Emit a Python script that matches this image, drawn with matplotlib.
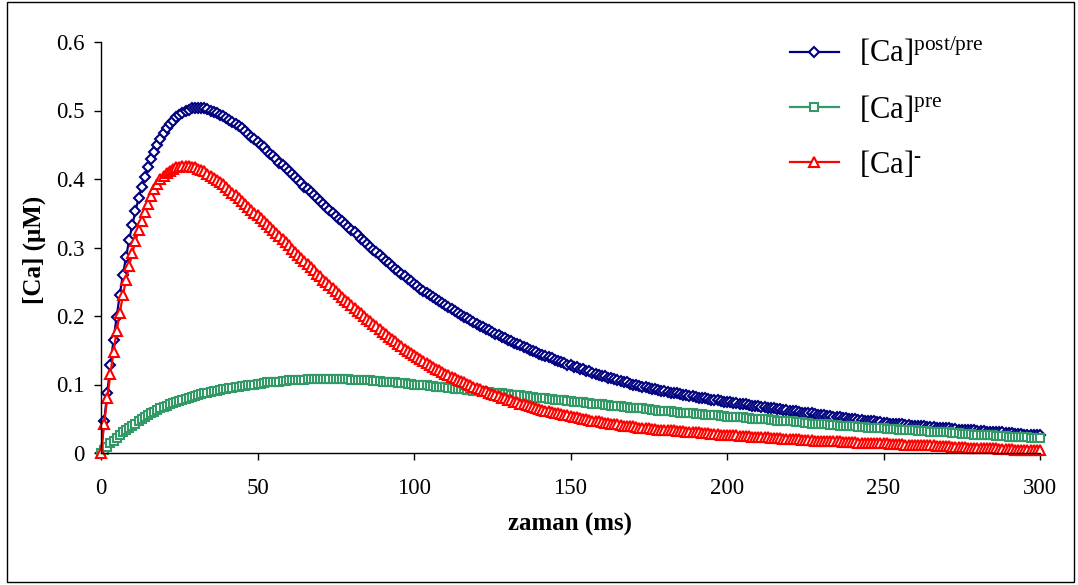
import matplotlib
matplotlib.use("Agg")
import matplotlib.pyplot as plt
import numpy as np
from matplotlib.patches import Rectangle

plt.rcParams["font.family"] = ["Liberation Serif", "DejaVu Serif"]
plt.rcParams["mathtext.fontset"] = "custom"
plt.rcParams["mathtext.rm"] = "Liberation Serif"
plt.rcParams["mathtext.it"] = "Liberation Serif:italic"

# time axis, one sample per ms
time_ms = np.arange(0, 301)

ca_post_pre = [
    0.000, 0.046, 0.088, 0.128, 0.165, 0.199, 0.231, 0.260, 0.286, 0.311,
    0.333, 0.353, 0.372, 0.388, 0.403, 0.417, 0.429, 0.440, 0.450, 0.459,
    0.467, 0.474, 0.480, 0.485, 0.490, 0.494, 0.497, 0.499, 0.501, 0.503,
    0.504, 0.504, 0.504, 0.503, 0.502, 0.500, 0.498, 0.496, 0.494, 0.492,
    0.489, 0.486, 0.483, 0.480, 0.477, 0.474, 0.470, 0.466, 0.462, 0.458,
    0.454, 0.450, 0.446, 0.441, 0.437, 0.433, 0.429, 0.424, 0.420, 0.416,
    0.411, 0.407, 0.403, 0.398, 0.394, 0.389, 0.385, 0.381, 0.376, 0.372,
    0.368, 0.363, 0.359, 0.355, 0.351, 0.346, 0.342, 0.338, 0.334, 0.330,
    0.326, 0.322, 0.318, 0.313, 0.309, 0.305, 0.301, 0.297, 0.293, 0.289,
    0.285, 0.281, 0.277, 0.273, 0.269, 0.265, 0.261, 0.258, 0.254, 0.251,
    0.247, 0.244, 0.240, 0.237, 0.234, 0.231, 0.228, 0.225, 0.222, 0.219,
    0.216, 0.213, 0.210, 0.207, 0.205, 0.202, 0.199, 0.197, 0.194, 0.191,
    0.189, 0.186, 0.184, 0.181, 0.179, 0.177, 0.174, 0.172, 0.170, 0.168,
    0.165, 0.163, 0.161, 0.159, 0.157, 0.155, 0.153, 0.151, 0.149, 0.147,
    0.145, 0.143, 0.141, 0.140, 0.138, 0.136, 0.134, 0.133, 0.131, 0.129,
    0.128, 0.126, 0.125, 0.123, 0.122, 0.120, 0.119, 0.117, 0.116, 0.114,
    0.113, 0.112, 0.110, 0.109, 0.108, 0.106, 0.105, 0.104, 0.103, 0.101,
    0.100, 0.099, 0.098, 0.097, 0.096, 0.095, 0.094, 0.093, 0.092, 0.091,
    0.090, 0.089, 0.088, 0.088, 0.087, 0.086, 0.085, 0.084, 0.083, 0.083,
    0.082, 0.081, 0.080, 0.080, 0.079, 0.078, 0.077, 0.077, 0.076, 0.075,
    0.075, 0.074, 0.073, 0.073, 0.072, 0.071, 0.071, 0.070, 0.069, 0.069,
    0.068, 0.067, 0.067, 0.066, 0.066, 0.065, 0.064, 0.064, 0.063, 0.063,
    0.062, 0.061, 0.061, 0.060, 0.059, 0.059, 0.058, 0.058, 0.057, 0.056,
    0.056, 0.055, 0.054, 0.054, 0.053, 0.053, 0.052, 0.051, 0.051, 0.050,
    0.049, 0.049, 0.048, 0.048, 0.047, 0.047, 0.046, 0.046, 0.045, 0.045,
    0.044, 0.044, 0.043, 0.043, 0.042, 0.042, 0.042, 0.041, 0.041, 0.040,
    0.040, 0.040, 0.039, 0.039, 0.038, 0.038, 0.038, 0.037, 0.037, 0.036,
    0.036, 0.036, 0.035, 0.035, 0.034, 0.034, 0.034, 0.033, 0.033, 0.033,
    0.032, 0.032, 0.032, 0.031, 0.031, 0.031, 0.030, 0.030, 0.030, 0.029,
    0.029, 0.029, 0.028, 0.028, 0.028, 0.027, 0.027, 0.027, 0.026, 0.026,
    0.026,
]

ca_pre = [
    0.000, 0.005, 0.009, 0.014, 0.018, 0.022, 0.026, 0.030, 0.033, 0.037,
    0.040, 0.043, 0.047, 0.050, 0.053, 0.055, 0.058, 0.060, 0.063, 0.065,
    0.067, 0.069, 0.071, 0.073, 0.075, 0.076, 0.078, 0.079, 0.081, 0.082,
    0.083, 0.084, 0.086, 0.087, 0.088, 0.089, 0.090, 0.091, 0.092, 0.093,
    0.094, 0.095, 0.095, 0.096, 0.097, 0.098, 0.098, 0.099, 0.100, 0.100,
    0.101, 0.101, 0.102, 0.103, 0.103, 0.104, 0.104, 0.104, 0.105, 0.105,
    0.106, 0.106, 0.106, 0.107, 0.107, 0.107, 0.108, 0.108, 0.108, 0.108,
    0.108, 0.108, 0.108, 0.108, 0.108, 0.108, 0.108, 0.108, 0.108, 0.108,
    0.107, 0.107, 0.107, 0.107, 0.106, 0.106, 0.106, 0.105, 0.105, 0.105,
    0.104, 0.104, 0.104, 0.103, 0.103, 0.102, 0.102, 0.102, 0.101, 0.101,
    0.100, 0.100, 0.099, 0.099, 0.099, 0.098, 0.098, 0.097, 0.097, 0.096,
    0.096, 0.095, 0.095, 0.094, 0.094, 0.093, 0.093, 0.092, 0.092, 0.091,
    0.091, 0.090, 0.090, 0.089, 0.089, 0.088, 0.088, 0.087, 0.087, 0.086,
    0.086, 0.085, 0.085, 0.084, 0.084, 0.083, 0.083, 0.082, 0.082, 0.081,
    0.081, 0.080, 0.080, 0.079, 0.079, 0.078, 0.078, 0.077, 0.077, 0.076,
    0.076, 0.075, 0.075, 0.074, 0.074, 0.073, 0.073, 0.072, 0.072, 0.071,
    0.071, 0.070, 0.070, 0.069, 0.069, 0.068, 0.068, 0.067, 0.067, 0.066,
    0.066, 0.066, 0.065, 0.065, 0.064, 0.064, 0.063, 0.063, 0.062, 0.062,
    0.062, 0.061, 0.061, 0.060, 0.060, 0.059, 0.059, 0.059, 0.058, 0.058,
    0.057, 0.057, 0.057, 0.056, 0.056, 0.055, 0.055, 0.055, 0.054, 0.054,
    0.053, 0.053, 0.053, 0.052, 0.052, 0.052, 0.051, 0.051, 0.050, 0.050,
    0.050, 0.049, 0.049, 0.049, 0.048, 0.048, 0.047, 0.047, 0.047, 0.046,
    0.046, 0.046, 0.045, 0.045, 0.045, 0.044, 0.044, 0.043, 0.043, 0.043,
    0.042, 0.042, 0.042, 0.041, 0.041, 0.041, 0.040, 0.040, 0.040, 0.039,
    0.039, 0.039, 0.038, 0.038, 0.038, 0.037, 0.037, 0.037, 0.036, 0.036,
    0.036, 0.035, 0.035, 0.035, 0.035, 0.034, 0.034, 0.034, 0.033, 0.033,
    0.033, 0.032, 0.032, 0.032, 0.032, 0.031, 0.031, 0.031, 0.030, 0.030,
    0.030, 0.030, 0.029, 0.029, 0.029, 0.028, 0.028, 0.028, 0.028, 0.027,
    0.027, 0.027, 0.026, 0.026, 0.026, 0.026, 0.025, 0.025, 0.025, 0.025,
    0.024, 0.024, 0.024, 0.024, 0.023, 0.023, 0.023, 0.022, 0.022, 0.022,
    0.022,
]

ca_minus = [
    0.000, 0.043, 0.080, 0.115, 0.148, 0.178, 0.205, 0.230, 0.253, 0.273,
    0.292, 0.309, 0.325, 0.339, 0.352, 0.364, 0.375, 0.385, 0.393, 0.400,
    0.405, 0.409, 0.412, 0.415, 0.417, 0.418, 0.419, 0.419, 0.419, 0.418,
    0.417, 0.415, 0.413, 0.411, 0.408, 0.405, 0.402, 0.399, 0.395, 0.392,
    0.388, 0.384, 0.380, 0.376, 0.372, 0.368, 0.364, 0.359, 0.355, 0.351,
    0.347, 0.343, 0.338, 0.334, 0.330, 0.326, 0.321, 0.317, 0.312, 0.308,
    0.303, 0.298, 0.294, 0.289, 0.285, 0.280, 0.276, 0.271, 0.267, 0.262,
    0.258, 0.253, 0.249, 0.245, 0.241, 0.236, 0.232, 0.228, 0.224, 0.220,
    0.216, 0.212, 0.208, 0.204, 0.200, 0.196, 0.192, 0.188, 0.185, 0.181,
    0.177, 0.173, 0.170, 0.166, 0.163, 0.159, 0.156, 0.152, 0.149, 0.146,
    0.143, 0.140, 0.137, 0.134, 0.131, 0.129, 0.126, 0.123, 0.121, 0.118,
    0.116, 0.114, 0.111, 0.109, 0.107, 0.105, 0.103, 0.101, 0.099, 0.097,
    0.095, 0.093, 0.091, 0.090, 0.088, 0.086, 0.084, 0.083, 0.081, 0.080,
    0.078, 0.077, 0.075, 0.074, 0.072, 0.071, 0.070, 0.068, 0.067, 0.066,
    0.064, 0.063, 0.062, 0.061, 0.060, 0.059, 0.058, 0.057, 0.056, 0.055,
    0.054, 0.053, 0.052, 0.051, 0.050, 0.049, 0.048, 0.047, 0.047, 0.046,
    0.045, 0.044, 0.044, 0.043, 0.042, 0.042, 0.041, 0.040, 0.040, 0.039,
    0.039, 0.038, 0.037, 0.037, 0.036, 0.036, 0.035, 0.035, 0.034, 0.034,
    0.034, 0.034, 0.033, 0.033, 0.032, 0.032, 0.032, 0.031, 0.031, 0.030,
    0.030, 0.030, 0.029, 0.029, 0.029, 0.028, 0.028, 0.028, 0.027, 0.027,
    0.027, 0.026, 0.026, 0.026, 0.025, 0.025, 0.025, 0.025, 0.024, 0.024,
    0.024, 0.023, 0.023, 0.023, 0.022, 0.022, 0.022, 0.022, 0.021, 0.021,
    0.021, 0.020, 0.020, 0.020, 0.019, 0.019, 0.019, 0.019, 0.018, 0.018,
    0.018, 0.018, 0.017, 0.017, 0.017, 0.017, 0.017, 0.016, 0.016, 0.016,
    0.016, 0.016, 0.015, 0.015, 0.015, 0.015, 0.015, 0.014, 0.014, 0.014,
    0.014, 0.014, 0.013, 0.013, 0.013, 0.013, 0.013, 0.012, 0.012, 0.012,
    0.012, 0.012, 0.011, 0.011, 0.011, 0.011, 0.011, 0.010, 0.010, 0.010,
    0.010, 0.010, 0.009, 0.009, 0.009, 0.009, 0.009, 0.008, 0.008, 0.008,
    0.008, 0.008, 0.007, 0.007, 0.007, 0.007, 0.007, 0.006, 0.006, 0.006,
    0.006, 0.006, 0.005, 0.005, 0.005, 0.005, 0.005, 0.005, 0.004, 0.004,
    0.004,
]

series_labels = [
    r"$\mathregular{[Ca]^{post/pre}}$",
    r"$\mathregular{[Ca]^{pre}}$",
    "$\\mathregular{[Ca]^{\u2010}}$",
]
x_ticks = [0, 50, 100, 150, 200, 250, 300]
y_ticks = [0, 0.1, 0.2, 0.3, 0.4, 0.5, 0.6]
y_tick_labels = ["0", "0.1", "0.2", "0.3", "0.4", "0.5", "0.6"]

W, H = 1078, 585
fig = plt.figure(figsize=(W / 100, H / 100), dpi=100)
ax = fig.add_axes([101 / W, 1 - 453 / H, 939 / W, 411 / H])

styles = [
    dict(color="#000080", marker="D", ms=4.6),
    dict(color="#339966", marker="s", ms=6.0),
    dict(color="#FF0000", marker="^", ms=6.8),
]
for ys, st, lab in zip([ca_post_pre, ca_pre, ca_minus], styles, series_labels):
    ax.plot(time_ms, ys, color=st["color"], lw=1.6, marker=st["marker"],
            ms=st["ms"], mfc="white", mec=st["color"], mew=1.5,
            label=lab, clip_on=False)

ax.set_xlim(0, 300)
ax.set_ylim(0, 0.6)
ax.set_xticks(x_ticks)
ax.set_yticks(y_ticks)
ax.set_yticklabels(y_tick_labels)
ax.tick_params(direction="out", length=5, width=1, labelsize=16.5)
ax.tick_params(axis="x", pad=13)
ax.tick_params(axis="y", pad=7)
for side in ("top", "right"):
    ax.spines[side].set_visible(False)
for side in ("left", "bottom"):
    ax.spines[side].set_linewidth(1)

ax.set_xlabel("zaman (ms)", fontsize=18, fontweight="bold", labelpad=10)
ax.set_ylabel("[Ca] (\u03bcM)", fontsize=18, fontweight="bold")
ax.yaxis.set_label_coords(46 / W, 1 - 250 / H, transform=fig.transFigure)

leg = ax.legend(loc="upper left", bbox_to_anchor=(790 / W, 1 - 36 / H),
                bbox_transform=fig.transFigure, frameon=False, fontsize=22,
                handlelength=1.6, handletextpad=0.65, labelspacing=0.8,
                borderpad=0, borderaxespad=0)

# outer chart frame
fig.add_artist(Rectangle((7 / W, 3 / H), 1067 / W, 580 / H,
                         transform=fig.transFigure, fill=False,
                         lw=1, edgecolor="black"))

fig.savefig("out.png", dpi=100)
